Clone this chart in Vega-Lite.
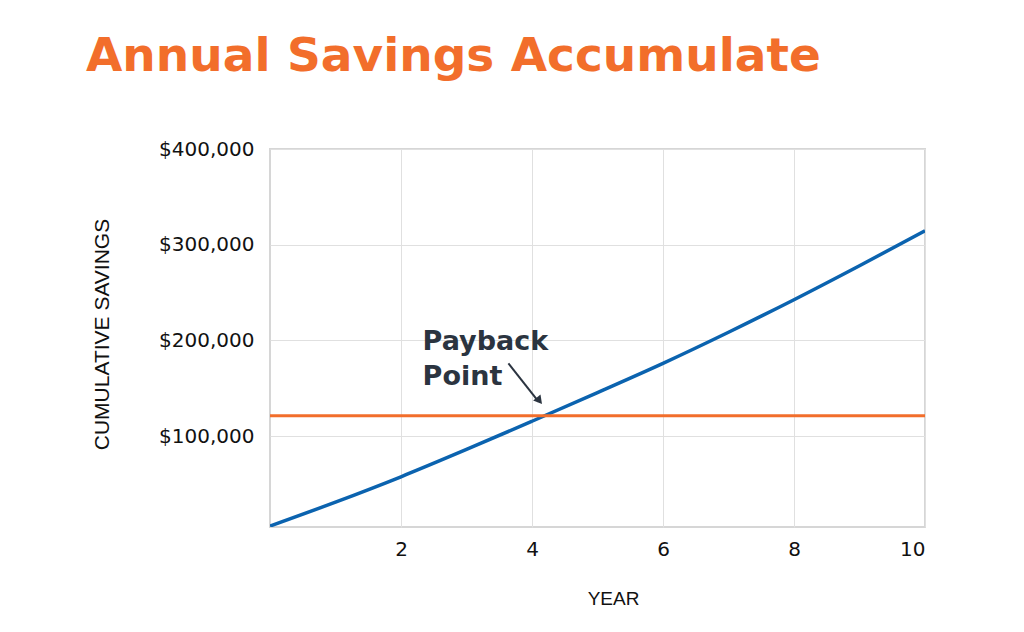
{
  "$schema": "https://vega.github.io/schema/vega-lite/v6.json",
  "autosize": "none",
  "width": 655,
  "height": 378,
  "padding": {"left": 270, "top": 149, "right": 99, "bottom": 105},
  "background": "white",
  "title": {
    "text": "Annual Savings Accumulate",
    "anchor": "start",
    "frame": "group",
    "dx": -184,
    "offset": 58,
    "font": "DejaVu Sans",
    "fontSize": 47,
    "fontWeight": 700,
    "color": "#F26E2B"
  },
  "config": {
    "view": {"stroke": "#d6d6d6", "strokeWidth": 2},
    "axis": {
      "grid": true,
      "gridColor": "#e0e0e0",
      "gridWidth": 1,
      "domain": false,
      "ticks": false,
      "labelFont": "DejaVu Sans",
      "labelFontSize": 20,
      "labelColor": "#111111",
      "titleFont": "Liberation Sans",
      "titleFontSize": 19,
      "titleFontWeight": "normal",
      "titleColor": "#111111"
    }
  },
  "layer": [
    {
      "data": {"values": [
        {"year": 0, "savings": 6000},
        {"year": 1, "savings": 31000},
        {"year": 2, "savings": 57500},
        {"year": 3, "savings": 86000},
        {"year": 4, "savings": 115500},
        {"year": 5, "savings": 145500},
        {"year": 6, "savings": 176000},
        {"year": 7, "savings": 208500},
        {"year": 8, "savings": 242500},
        {"year": 9, "savings": 278000},
        {"year": 10, "savings": 314500}
      ]},
      "mark": {"type": "line", "color": "#0B63AF", "strokeWidth": 3.5, "interpolate": "monotone", "clip": true},
      "encoding": {
        "x": {
          "field": "year", "type": "quantitative",
          "scale": {"domain": [0, 10], "nice": false},
          "axis": {"values": [2, 4, 6, 8, 10], "format": "d", "title": "YEAR", "labelPadding": 12, "titlePadding": 30, "titleX": 343}
        },
        "y": {
          "field": "savings", "type": "quantitative",
          "scale": {"domain": [5000, 400000], "nice": false, "zero": false},
          "axis": {"values": [100000, 200000, 300000, 400000], "format": "$,.0f", "title": "CUMULATIVE SAVINGS", "titleFontSize": 21, "titleY": 185, "labelPadding": 16, "titlePadding": 46}
        }
      }
    },
    {
      "data": {"values": [{"cost": 121300}]},
      "mark": {"type": "rule", "color": "#F26E2B", "strokeWidth": 3},
      "encoding": {"y": {"field": "cost", "type": "quantitative"}}
    },
    {
      "data": {"values": [{"x1": 3.64, "y1": 176000, "x2": 4.1, "y2": 136000}]},
      "mark": {"type": "rule", "color": "#2b3440", "strokeWidth": 2},
      "encoding": {
        "x": {"field": "x1", "type": "quantitative"},
        "y": {"field": "y1", "type": "quantitative"},
        "x2": {"field": "x2"},
        "y2": {"field": "y2"}
      }
    },
    {
      "data": {"values": [{"x": 4.1, "y": 138000}]},
      "mark": {"type": "point", "shape": "triangle", "filled": true, "color": "#2b3440", "opacity": 1, "size": 90, "angle": 141},
      "encoding": {
        "x": {"field": "x", "type": "quantitative"},
        "y": {"field": "y", "type": "quantitative"}
      }
    },
    {
      "data": {"values": [{"x": 2.33, "y": 190000, "label": ["Payback", "Point"]}]},
      "mark": {"type": "text", "align": "left", "baseline": "alphabetic", "font": "DejaVu Sans", "fontSize": 27, "fontWeight": 700, "color": "#2b3440", "lineHeight": 35},
      "encoding": {
        "x": {"field": "x", "type": "quantitative"},
        "y": {"field": "y", "type": "quantitative"},
        "text": {"field": "label"}
      }
    }
  ]
}
